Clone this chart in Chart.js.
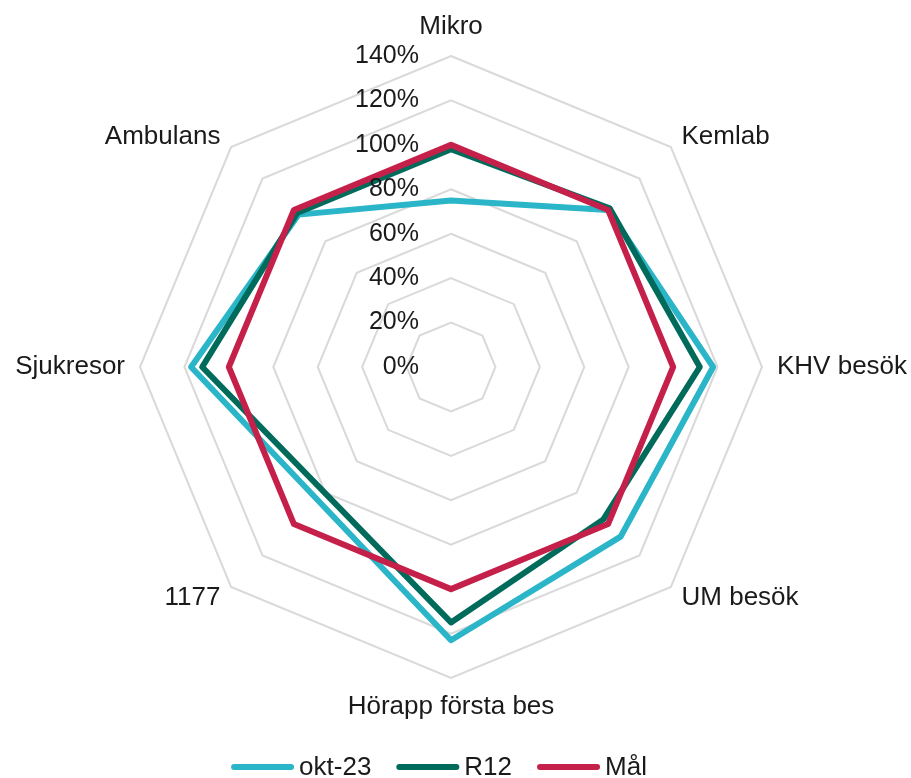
<!DOCTYPE html>
<html>
<head>
<meta charset="utf-8">
<script src="https://cdn.jsdelivr.net/npm/chart.js@4"></script>
<style>
  html, body { margin:0; padding:0; background:#fff; overflow:hidden; }
  canvas { display:block; }
</style>
</head>
<body>
<canvas id="radarChart" width="911" height="778"></canvas>
<script>
// === Data ===
const categories = ['Mikro','Kemlab','KHV besök','UM besök','Hörapp första bes','1177','Sjukresor','Ambulans'];
const okt23 = [75, 100, 118, 108, 123, null, 117, 97];
const r12   = [98, 101, 112, 97, 115, null, 112, 98];
const mal   = [100, 100, 100, 100, 100, 100, 100, 100];
const tickValues = [0, 20, 40, 60, 80, 100, 120, 140];
const tickLabels = ['0%','20%','40%','60%','80%','100%','120%','140%'];

const FONT = '"Liberation Sans", Arial, sans-serif';
const TEXT = '#1a1a1a';

// labels, ticks and legend drawn on top of the scale
const overlay = {
  id: 'overlay',
  afterDatasetsDraw(chart) {
    const ctx = chart.ctx;
    const r = chart.scales.r;
    ctx.save();
    ctx.fillStyle = TEXT;
    ctx.textBaseline = 'middle';

    // tick labels left of the vertical axis
    ctx.font = '25px ' + FONT;
    ctx.textAlign = 'right';
    tickValues.forEach((v, i) => {
      const y = r.yCenter - r.getDistanceFromCenterForValue(v);
      ctx.fillText(tickLabels[i], r.xCenter - 32, y);
    });

    // category labels
    ctx.font = '26px ' + FONT;
    categories.forEach((name, i) => {
      const a = r.getIndexAngle(i);
      const s = Math.sin(a);
      const vertical = Math.abs(s) < 0.01;
      const pos = r.getPointPosition(i, r.drawingArea + (vertical ? 29 : 15));
      ctx.textAlign = vertical ? 'center' : (s > 0 ? 'left' : 'right');
      ctx.fillText(name, pos.x, pos.y);
    });

    // legend
    const items = chart.data.datasets.map(d => ({ text: d.label, color: d.borderColor }));
    const widths = items.map(it => 63 + 5 + ctx.measureText(it.text).width);
    const total = widths.reduce((a, b) => a + b, 0) + 25 * (items.length - 1);
    let x = 439 - total / 2;
    const y = 767;
    ctx.textAlign = 'left';
    items.forEach((it, i) => {
      ctx.strokeStyle = it.color;
      ctx.lineWidth = 6;
      ctx.lineCap = 'round';
      ctx.beginPath();
      ctx.moveTo(x + 3, y);
      ctx.lineTo(x + 60, y);
      ctx.stroke();
      ctx.fillText(it.text, x + 68, y + 1);
      x += widths[i] + 25;
    });
    ctx.restore();
  }
};

const ctxRadar = document.getElementById('radarChart');
new Chart(ctxRadar, {
  type: 'radar',
  data: {
    labels: categories,
    datasets: [
      { label:'okt-23', data:okt23, borderColor:'#2bb5c8', order:3 },
      { label:'R12', data:r12, borderColor:'#006b5b', order:2 },
      { label:'Mål', data:mal, borderColor:'#c4204a', order:1 }
    ]
  },
  options: {
    responsive:false,
    animation:false,
    layout: { padding:{ top:56, bottom:100, left:140, right:149 } },
    elements: {
      line: { borderWidth:6, fill:false, tension:0, borderJoinStyle:'round', borderCapStyle:'round' },
      point: { radius:0, hoverRadius:0 }
    },
    datasets: { radar: { spanGaps:true } },
    scales: {
      r: {
        min:0, max:140,
        ticks: { stepSize:20, display:false },
        grid: { color:'#d9d9d9', lineWidth:2 },
        angleLines: { display:false },
        pointLabels: { display:false }
      }
    },
    plugins: { legend:{ display:false }, tooltip:{ enabled:false } }
  },
  plugins: [overlay]
});
</script>
</body>
</html>
